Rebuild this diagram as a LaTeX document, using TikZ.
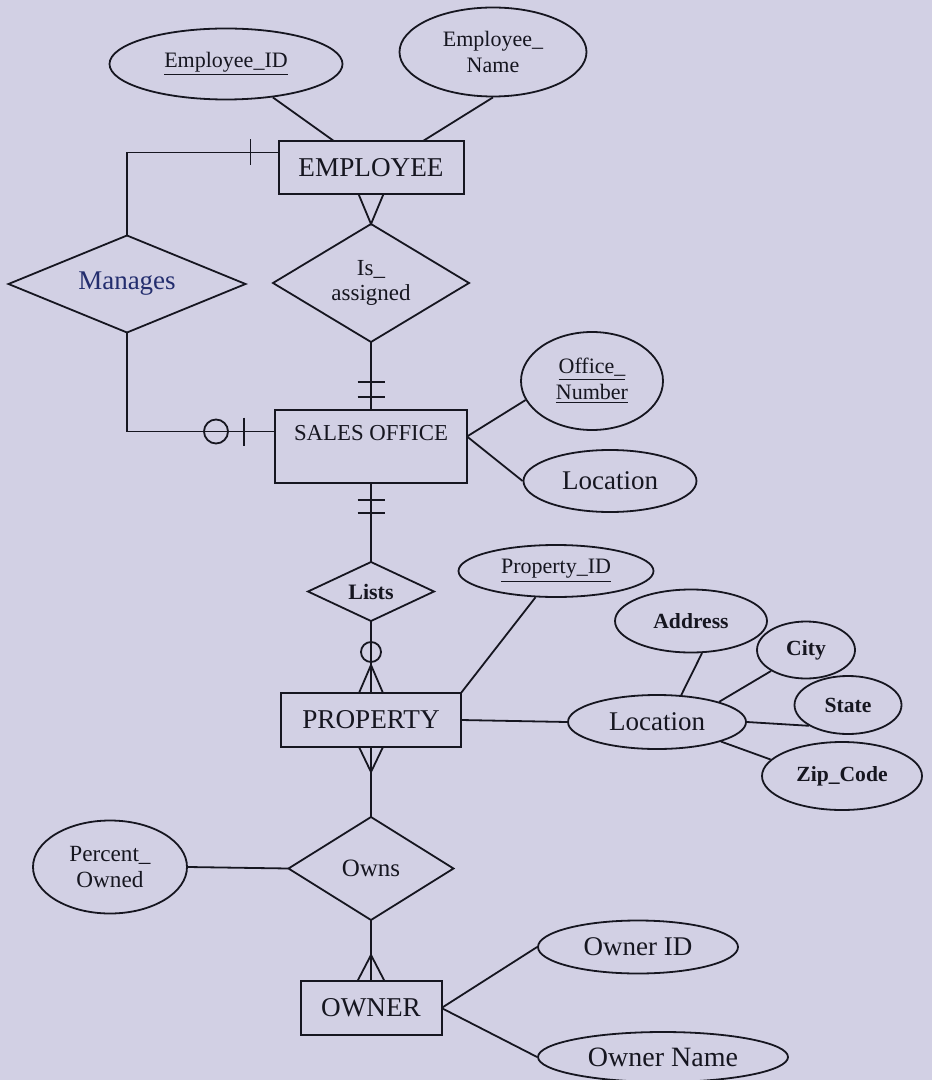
\documentclass[tikz,border=0pt]{standalone}
\usepackage{fontspec}
\setmainfont{Liberation Serif}
\usetikzlibrary{shapes.geometric,positioning,calc}
\definecolor{paper}{RGB}{210,208,228}
\definecolor{ink}{RGB}{22,22,32}
\definecolor{navy}{RGB}{35,45,110}

\begin{document}
\begin{tikzpicture}[
  x=0.5pt, y=-0.5pt,
  entity/.style={draw=ink, text=ink, line width=1pt, inner sep=0pt, outer sep=0pt, align=center, font=\fontsize{13.6}{16}\selectfont},
  attr/.style={draw=ink, text=ink, ellipse, line width=0.9pt, inner sep=0pt, align=center, font=\fontsize{11}{13}\selectfont},
  rel/.style={draw=ink, text=ink, diamond, aspect=2, line width=0.9pt, inner sep=0pt, outer sep=0pt, align=center, font=\fontsize{12}{14}\selectfont},
  link/.style={draw=ink, line width=0.9pt},
]
\fill[paper] (0,0) rectangle (932,1080);
\useasboundingbox (0,0) rectangle (932,1080);

\node[entity, minimum width=92.5pt, minimum height=26.5pt] (emp) at (371,167.5) {EMPLOYEE};
\node[rel, aspect=1.66, minimum width=98pt, minimum height=59pt, below=15pt of emp, font=\fontsize{11.5}{12.5}\selectfont] (assigned) {Is\_\\assigned};
\node[entity, minimum width=96pt, minimum height=36.5pt, below=34pt of assigned, font=\fontsize{11.4}{13.5}\selectfont] (office) {SALES OFFICE\\ \mbox{}};
\node[rel, minimum width=63pt, minimum height=29.5pt, below=39.5pt of office, font=\bfseries\fontsize{11}{13}\selectfont] (lists) {Lists};
\node[entity, minimum width=90pt, minimum height=27pt, below=36pt of lists] (prop) {PROPERTY};
\node[rel, aspect=1.6, minimum width=82.5pt, minimum height=51.5pt, below=35pt of prop, font=\fontsize{12.5}{14}\selectfont] (owns) {Owns};
\node[entity, minimum width=70.5pt, minimum height=27pt, below=30.5pt of owns] (owner) {OWNER};

\node[rel, aspect=2.4, minimum width=118.5pt, minimum height=48.5pt, text=navy, font=\fontsize{13.5}{15}\selectfont] (manages) at (127,284) {Manages};

\node[attr, minimum width=116.5pt, minimum height=35.5pt] (empid) at (226,64) {\underline{Employee\_ID}};
\node[attr, minimum width=93.5pt, minimum height=44.5pt] (empname) at (493,52) {Employee\_\\Name};
\node[attr, minimum width=71pt, minimum height=49pt] (officenum) at (592,381) {\underline{Office\_}\\\underline{Number}};
\node[attr, minimum width=86.5pt, minimum height=31pt, font=\fontsize{13.5}{15}\selectfont] (officeloc) at (610,481) {Location};
\node[attr, minimum width=97.5pt, minimum height=26pt] (propid) at (556,571) {\underline{Property\_ID}};
\node[attr, minimum width=89pt, minimum height=27pt, font=\fontsize{13.5}{15}\selectfont] (proploc) at (657,722) {Location};
\node[attr, minimum width=76pt, minimum height=31.5pt, font=\bfseries\fontsize{10.8}{12}\selectfont] (address) at (691,621) {Address};
\node[attr, minimum width=49pt, minimum height=28.5pt, font=\bfseries\fontsize{10.8}{12}\selectfont] (city) at (806,650) {City};
\node[attr, minimum width=53.5pt, minimum height=29pt, font=\bfseries\fontsize{10.8}{12}\selectfont] (state) at (848,705) {State};
\node[attr, minimum width=80pt, minimum height=34pt, font=\bfseries\fontsize{10.8}{12}\selectfont] (zip) at (842,776) {Zip\_Code};
\node[attr, minimum width=77pt, minimum height=46.5pt, font=\fontsize{11.6}{13}\selectfont] (pctowned) at (110,867) {Percent\_\\Owned};
\node[attr, minimum width=100pt, minimum height=26.5pt, font=\fontsize{13.5}{15}\selectfont] (ownerid) at (638,947) {Owner ID};
\node[attr, minimum width=125pt, minimum height=25pt, font=\fontsize{14}{16}\selectfont] (ownername) at (663,1057) {Owner Name};

\draw[link] (empid) -- (emp);
\draw[link] (empname.south) -- ($(emp.north)+(52,0)$);

\draw[link] (manages.north) |- ($(emp.west)+(0,-15)$);
\draw[link] ($(emp.west)+(-28,-28)$) -- ++(0,26);
\draw[link] (manages.south) |- ($(office.west)+(0,-15)$);
\draw[link] ($(office.west)+(-59,-15)$) circle[radius=6pt];
\draw[link] ($(office.west)+(-31,-29)$) -- ++(0,28);

\draw[link] ($(emp.south)+(-12.5,0)$) -- (assigned.north) -- ($(emp.south)+(12.5,0)$);
\draw[link] (assigned.south) -- (office.north);
\draw[link] ($(office.north)+(-13.5,-28)$) -- ++(27,0);
\draw[link] ($(office.north)+(-13.5,-13)$) -- ++(27,0);

\draw[link] (office.south) -- (lists.north);
\draw[link] ($(office.south)+(-13.5,17)$) -- ++(27,0);
\draw[link] ($(office.south)+(-13.5,30)$) -- ++(27,0);

\draw[link] (lists.south) -- (prop.north);
\draw[link] ($(prop.north)+(0,-41)$) circle[radius=5pt];
\draw[link] ($(prop.north)+(-12,0)$) -- ($(prop.north)+(0,-28)$) -- ($(prop.north)+(12,0)$);

\draw[link] (prop.south) -- (owns.north);
\draw[link] ($(prop.south)+(-12,0)$) -- ($(prop.south)+(0,25)$) -- ($(prop.south)+(12,0)$);
\draw[link] (owns.south) -- (owner.north);
\draw[link] ($(owner.north)+(-13.5,0)$) -- ($(owner.north)+(0,-26)$) -- ($(owner.north)+(13.5,0)$);
\draw[link] (pctowned.east) -- (owns.west);

\coordinate (oc) at ($(office.east)+(0,-10)$);
\draw[link] (oc) -- (officenum.196);
\draw[link] (oc) -- (officeloc.west);

\draw[link] (propid) -- (prop.north east);
\draw[link] (prop.east) -- (proploc.west);
\draw[link] (address.-71) -- (proploc.48);
\draw[link] (city.211) -- (proploc.18);
\draw[link] (proploc.east) -- (state.208);
\draw[link] (proploc.-17) -- (zip.167);

\draw[link] (owner.east) -- (ownerid.west);
\draw[link] (owner.east) -- (ownername.west);
\end{tikzpicture}
\end{document}
